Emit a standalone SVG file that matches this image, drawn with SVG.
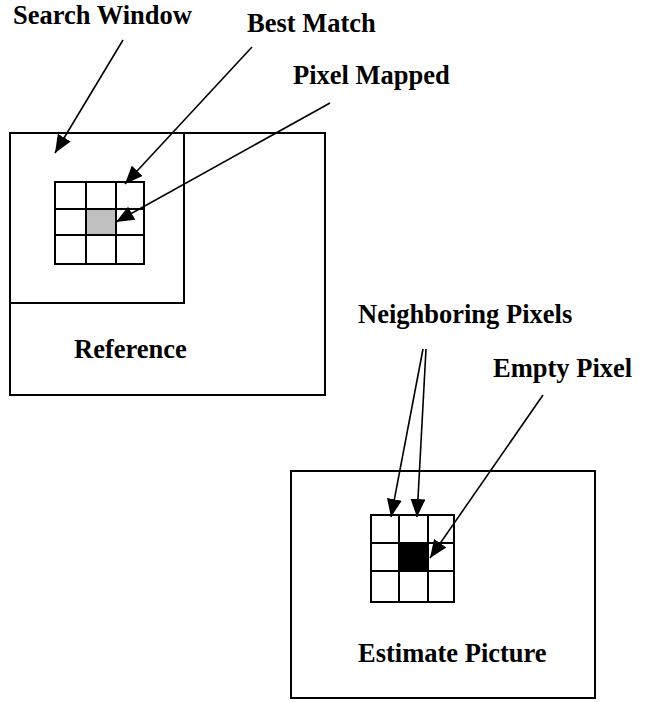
<svg xmlns="http://www.w3.org/2000/svg" width="647" height="702" viewBox="0 0 647 702">
<style>
.box{fill:none;stroke:#000;stroke-width:2}
.grid{fill:none;stroke:#000;stroke-width:2}
.lbl{font-family:"Liberation Serif","Times New Roman",serif;font-weight:bold;font-size:26.5px;fill:#000}
.arr{stroke:#000;stroke-width:1.6;fill:none;marker-end:url(#ah)}
</style>
<defs>
<marker id="ah" markerWidth="18" markerHeight="15" refX="18" refY="7.5" orient="auto" markerUnits="userSpaceOnUse">
<path d="M0,0 L18,7.5 L0,15 z" fill="#000"/>
</marker>
</defs>
<rect width="647" height="702" fill="#fff"/>
<g id="reference">
<rect class="box" x="10" y="133" width="315" height="262"/>
<text class="lbl" x="74" y="358">Reference</text>
</g>
<g id="search-window">
<rect class="box" x="10" y="133" width="174" height="170"/>
</g>
<g id="ref-grid">
<rect x="86" y="209" width="30" height="26" fill="#c0c0c0"/>
<rect class="grid" x="55" y="182" width="89" height="82"/>
<path class="grid" d="M86,182V264M116,182V264M55,209H144M55,235H144"/>
</g>
<g id="estimate">
<rect class="box" x="291" y="471" width="304" height="227"/>
<text class="lbl" x="358" y="662">Estimate Picture</text>
</g>
<g id="est-grid">
<rect x="399" y="543" width="29" height="28" fill="#000"/>
<rect class="grid" x="371" y="515" width="83" height="87"/>
<path class="grid" d="M399,515V602M428,515V602M371,543H454M371,571H454"/>
</g>
<g id="labels">
<text class="lbl" x="13" y="24">Search Window</text>
<text class="lbl" x="247" y="32">Best Match</text>
<text class="lbl" x="293" y="84">Pixel Mapped</text>
<text class="lbl" x="358" y="323">Neighboring Pixels</text>
<text class="lbl" x="493" y="377">Empty Pixel</text>
</g>
<g id="connectors">
<line class="arr" x1="123" y1="40" x2="55" y2="153"/>
<line class="arr" x1="252" y1="47" x2="125" y2="184"/>
<line class="arr" x1="330" y1="103" x2="116" y2="222"/>
<line class="arr" x1="423" y1="349" x2="391" y2="517"/>
<line class="arr" x1="426" y1="349" x2="417" y2="517"/>
<line class="arr" x1="543" y1="395" x2="430" y2="558"/>
</g>
</svg>
